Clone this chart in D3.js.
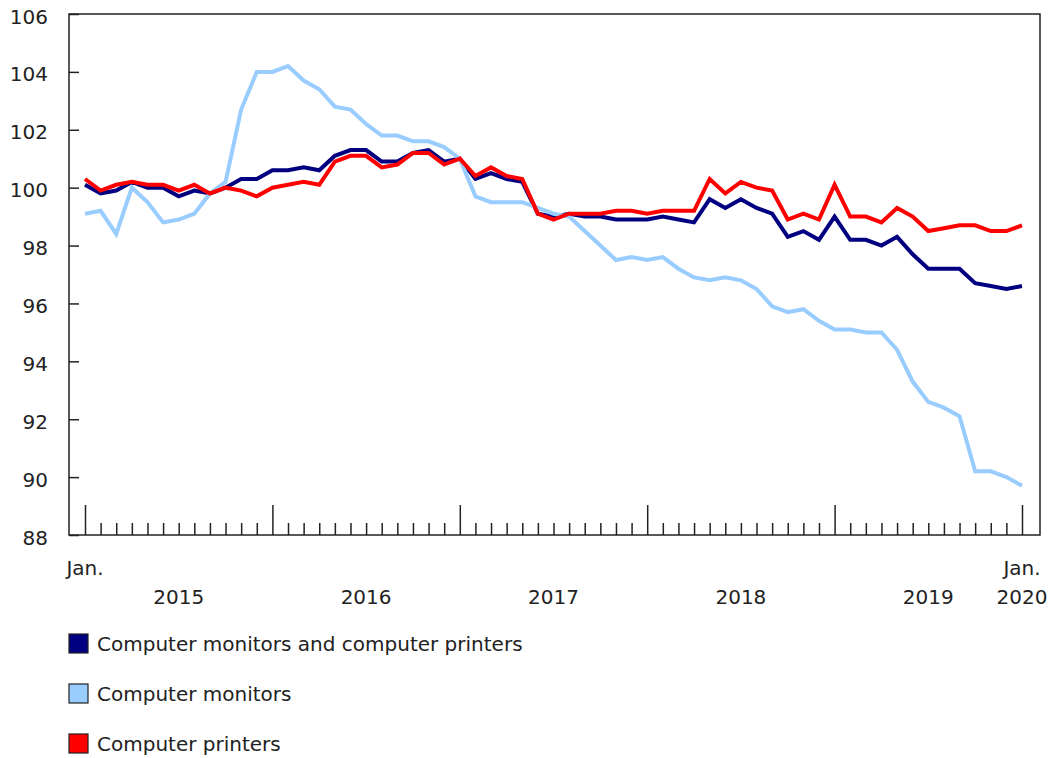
<!DOCTYPE html>
<html>
<head>
<meta charset="utf-8">
<script src="https://cdn.jsdelivr.net/npm/d3@7"></script>
<style>
  body { margin: 0; background: #fff; }
  svg { display: block; font-family: "DejaVu Sans", Verdana, sans-serif; }
</style>
</head>
<body>
<svg id="canvas" width="1052" height="758"></svg>
<script>
// monthly index values, Jan. 2015 to Jan. 2020
let months = d3.timeMonth.range(new Date(2015, 0, 1), new Date(2020, 1, 1))

let seriesNames = ['Computer monitors and computer printers', 'Computer monitors', 'Computer printers']
let seriesColors = ['#000080', '#99ccff', '#ff0000']

let monitorsAndPrinters = [
  100.1, 99.8, 99.9, 100.2, 100.0, 100.0, 99.7, 99.9, 99.8, 100.0, 100.3, 100.3,
  100.6, 100.6, 100.7, 100.6, 101.1, 101.3, 101.3, 100.9, 100.9, 101.2, 101.3, 100.9,
  101.0, 100.3, 100.5, 100.3, 100.2, 99.1, 99.0, 99.1, 99.0, 99.0, 98.9, 98.9,
  98.9, 99.0, 98.9, 98.8, 99.6, 99.3, 99.6, 99.3, 99.1, 98.3, 98.5, 98.2,
  99.0, 98.2, 98.2, 98.0, 98.3, 97.7, 97.2, 97.2, 97.2, 96.7, 96.6, 96.5,
  96.6
]
let monitors = [
  99.1, 99.2, 98.4, 100.0, 99.5, 98.8, 98.9, 99.1, 99.8, 100.2, 102.7, 104.0,
  104.0, 104.2, 103.7, 103.4, 102.8, 102.7, 102.2, 101.8, 101.8, 101.6, 101.6, 101.4,
  101.0, 99.7, 99.5, 99.5, 99.5, 99.3, 99.1, 99.0, 98.5, 98.0, 97.5, 97.6,
  97.5, 97.6, 97.2, 96.9, 96.8, 96.9, 96.8, 96.5, 95.9, 95.7, 95.8, 95.4,
  95.1, 95.1, 95.0, 95.0, 94.4, 93.3, 92.6, 92.4, 92.1, 90.2, 90.2, 90.0,
  89.7
]
let printers = [
  100.3, 99.9, 100.1, 100.2, 100.1, 100.1, 99.9, 100.1, 99.8, 100.0, 99.9, 99.7,
  100.0, 100.1, 100.2, 100.1, 100.9, 101.1, 101.1, 100.7, 100.8, 101.2, 101.2, 100.8,
  101.0, 100.4, 100.7, 100.4, 100.3, 99.1, 98.9, 99.1, 99.1, 99.1, 99.2, 99.2,
  99.1, 99.2, 99.2, 99.2, 100.3, 99.8, 100.2, 100.0, 99.9, 98.9, 99.1, 98.9,
  100.1, 99.0, 99.0, 98.8, 99.3, 99.0, 98.5, 98.6, 98.7, 98.7, 98.5, 98.5,
  98.7
]

let yTicks = [88, 90, 92, 94, 96, 98, 100, 102, 104, 106]
let yearLabels = ['2015', '2016', '2017', '2018', '2019', '2020']

let canvas = d3.select('#canvas')

let plotLeft = 69, plotRight = 1040, plotTop = 14, plotBottom = 535
let xStart = 85, xEnd = 1022
let fontSize = '20px'

let x = d3.scalePoint()
          .domain(months)
          .range([xStart, xEnd])

let y = d3.scaleLinear()
          .domain([88, 106])
          .range([plotBottom, plotTop])

// frame
canvas.append('rect')
      .attr('x', plotLeft)
      .attr('y', plotTop)
      .attr('width', plotRight - plotLeft)
      .attr('height', plotBottom - plotTop)
      .attr('fill', 'none')
      .attr('stroke', '#222')
      .attr('stroke-width', 1.5)

// y axis, ticks pointing inward
let yAxis = d3.axisLeft(y)
              .tickValues(yTicks)
              .tickSize(-10)
              .tickPadding(21)
              .tickFormat(d3.format('d'))

canvas.append('g')
      .attr('transform', 'translate(' + plotLeft + ',0)')
      .call(yAxis)
      .call(g => g.select('.domain').remove())
      .call(g => g.selectAll('line').attr('stroke', '#222').attr('stroke-width', 1.5))
      .call(g => g.selectAll('text')
                  .attr('dy', '0.45em')
                  .attr('fill', '#222')
                  .style('font-size', fontSize)
                  .style('font-family', '"DejaVu Sans", Verdana, sans-serif'))

// x axis: small ticks every month, tall ticks at each January
let janMonths = months.filter(d => d.getMonth() === 0)

let xMinor = d3.axisBottom(x)
               .tickValues(months.filter(d => d.getMonth() !== 0))
               .tickSize(-12)
               .tickFormat('')

let xMajor = d3.axisBottom(x)
               .tickValues(janMonths)
               .tickSize(-30)
               .tickFormat('')

canvas.append('g')
      .attr('transform', 'translate(0,' + plotBottom + ')')
      .call(xMinor)
      .call(g => g.select('.domain').remove())
      .call(g => g.selectAll('line').attr('stroke', '#222').attr('stroke-width', 1.5))

canvas.append('g')
      .attr('transform', 'translate(0,' + plotBottom + ')')
      .call(xMajor)
      .call(g => g.select('.domain').remove())
      .call(g => g.selectAll('line').attr('stroke', '#222').attr('stroke-width', 1.5))

// "Jan." labels at first and last month
let edgeMonths = [months[0], months[months.length - 1]]
canvas.selectAll('.janLabel')
      .data(edgeMonths)
      .enter()
      .append('text')
      .attr('class', 'janLabel')
      .attr('x', d => x(d))
      .attr('y', 575)
      .attr('text-anchor', 'middle')
      .style('font-size', fontSize)
      .attr('fill', '#222')
      .text('Jan.')

// year labels centered in each year, last one under Jan. 2020
canvas.selectAll('.yearLabel')
      .data(yearLabels)
      .enter()
      .append('text')
      .attr('class', 'yearLabel')
      .attr('x', (d, i) => {
          let start = janMonths[i]
          if (i === janMonths.length - 1) {
              return x(start)
          }
          return (x(start) + x(janMonths[i + 1])) / 2
      })
      .attr('y', 604)
      .attr('text-anchor', 'middle')
      .style('font-size', fontSize)
      .attr('fill', '#222')
      .text(d => d)

// lines
let seriesValues = [monitorsAndPrinters, monitors, printers]

let line = d3.line()
             .x((d, i) => x(months[i]))
             .y(d => y(d))

canvas.selectAll('.series')
      .data(seriesValues)
      .enter()
      .append('path')
      .attr('class', 'series')
      .attr('d', d => line(d))
      .attr('fill', 'none')
      .attr('stroke', (d, i) => seriesColors[i])
      .attr('stroke-width', 4)
      .attr('stroke-linejoin', 'miter')

// legend
let legend = canvas.selectAll('.legend')
                   .data(seriesNames)
                   .enter()
                   .append('g')
                   .attr('class', 'legend')
                   .attr('transform', (d, i) => 'translate(69,' + (634 + i * 50) + ')')

legend.append('rect')
      .attr('width', 19)
      .attr('height', 19)
      .attr('fill', (d, i) => seriesColors[i])
      .attr('stroke', '#222')
      .attr('stroke-width', 1.2)

legend.append('text')
      .attr('x', 28)
      .attr('y', 17)
      .style('font-size', fontSize)
      .attr('fill', '#222')
      .text(d => d)
</script>
</body>
</html>
